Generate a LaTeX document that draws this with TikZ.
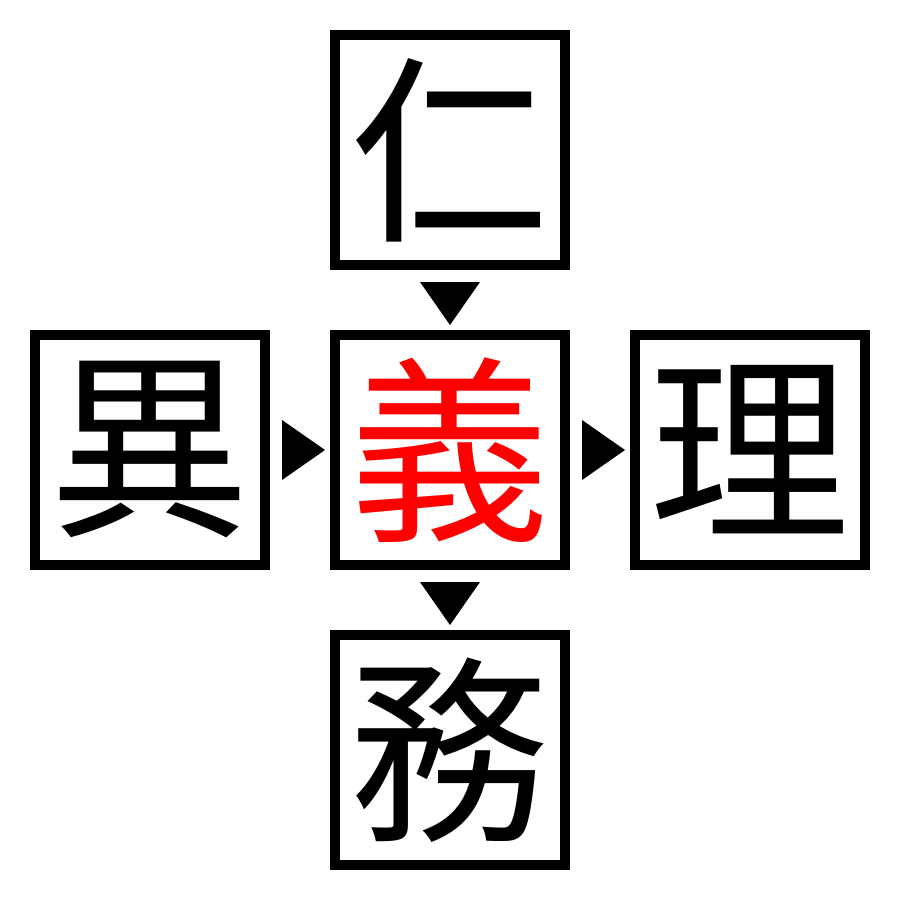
\documentclass[tikz,border=0pt]{standalone}
\usepackage{fontspec}
\newfontfamily\cjk{Noto Sans CJK JP}
\begin{document}
\begin{tikzpicture}[x=0.01cm,y=-0.01cm,
  charbox/.style={draw=black,line width=0.1cm,minimum size=2.3cm,inner sep=0pt,font=\cjk\fontsize{57}{57}\selectfont,fill=white},
  tri/.style={fill=black,draw=none}]
\useasboundingbox (0,0) rectangle (900,900);
\fill[white] (0,0) rectangle (900,900);
\node[charbox] (top) at (450,150) {仁};
\node[charbox] (left) at (150,450) {異};
\node[charbox,text=red] (mid) at (450,450) {義};
\node[charbox] (right) at (750,450) {理};
\node[charbox] (bot) at (450,750) {務};
\fill[tri] (420,282) -- (480,282) -- (450,325) -- cycle;
\fill[tri] (420,582) -- (480,582) -- (450,625) -- cycle;
\fill[tri] (282,420) -- (282,480) -- (325,450) -- cycle;
\fill[tri] (582,420) -- (582,480) -- (625,450) -- cycle;
\end{tikzpicture}
\end{document}
